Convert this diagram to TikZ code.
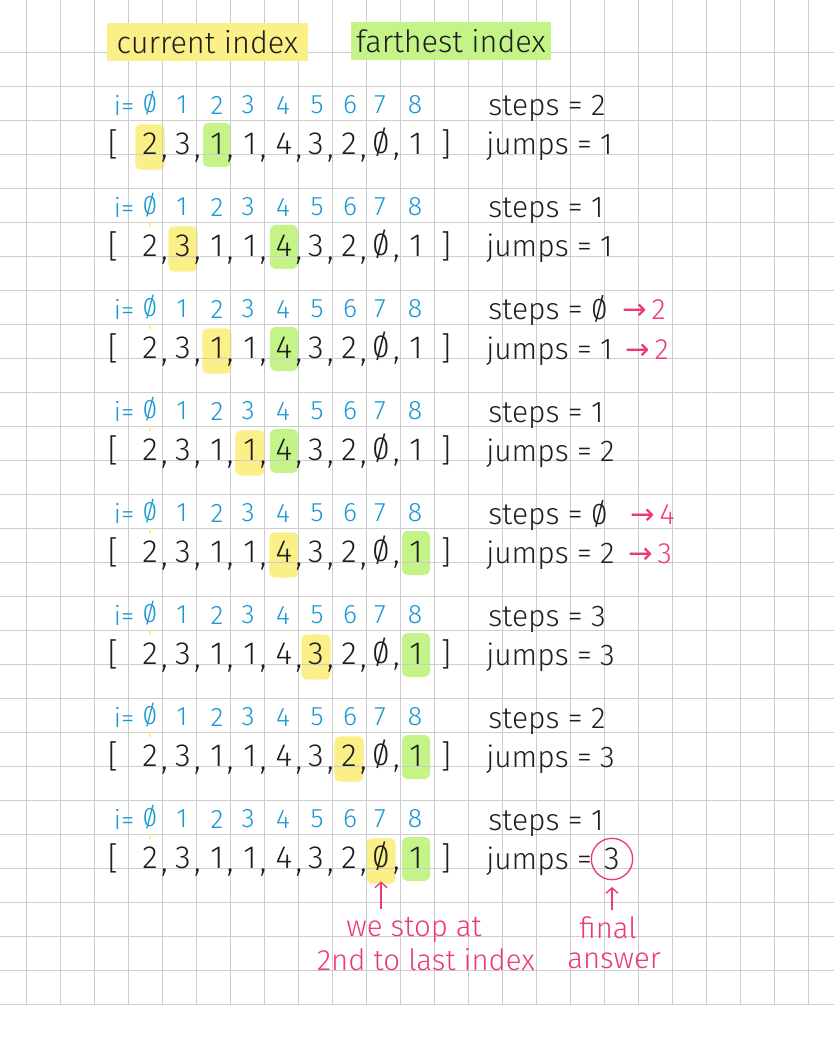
\documentclass[tikz,border=0pt]{standalone}
\usepackage{fontspec}
\setmainfont{Fira Sans}[UprightFont=* Light]
\newfontfamily\arrowfont{DejaVu Sans}
\usepackage{tikz}
\usetikzlibrary{positioning, arrows.meta, backgrounds}

\definecolor{inkblack}{RGB}{30,30,30}
\definecolor{idxblue}{RGB}{25,152,212}
\definecolor{notepink}{RGB}{236,58,120}
\definecolor{hlyellow}{RGB}{250,240,135}
\definecolor{hlgreen}{RGB}{196,243,136}
\definecolor{gridgray}{RGB}{205,205,205}

\newcommand{\slz}{\ooalign{0\cr\hidewidth/\hidewidth\cr}}

\begin{document}
\begin{tikzpicture}[
    x=0.75pt, y=-0.75pt,
    hand/.style={font=\fontsize{24}{28}\selectfont, text=inkblack, inner sep=0pt},
    count/.style={font=\fontsize{22.5}{27}\selectfont, text=inkblack, inner sep=0pt},
    idx/.style={font=\fontsize{20}{24}\selectfont, text=idxblue, inner sep=0pt},
    note/.style={font=\fontsize{22}{26}\selectfont, text=notepink, inner sep=0pt},
    curhl/.style={fill=hlyellow, rounded corners=4pt, minimum width=22pt, minimum height=34pt, inner sep=0pt},
    farhl/.style={fill=hlgreen, rounded corners=4pt, minimum width=21pt, minimum height=33pt, inner sep=0pt},
    gridline/.style={draw=gridgray, line width=0.75pt},
    pinkarrow/.style={draw=notepink, line width=1pt, -{Straight Barb[length=4pt, width=9pt]}}
]

    % Page
    \useasboundingbox (0,0) rectangle (834,1048);
    \begin{scope}[on background layer]
        \fill[white] (0,0) rectangle (834,1048);
    \end{scope}

    % Grid paper
    \foreach \gx in {0,...,23}
        \draw[gridline] (26.7+34*\gx, 0) -- (26.7+34*\gx, 1004.3);
    \foreach \gy in {0,...,28}
        \draw[gridline] (0, 52.3+34*\gy) -- (834, 52.3+34*\gy);

    % Legend
    \node[hand, fill=hlyellow, minimum width=151pt, minimum height=29pt, font=\fontsize{23}{27}\selectfont] (curhdr) at (207.5,42) {current index};
    \node[hand, fill=hlgreen, minimum width=150pt, minimum height=29pt, font=\fontsize{23}{27}\selectfont] (farhdr) at (451,41) {farthest index};

    % Iterations: row / current / farthest / steps / jumps
    \foreach \r/\cur/\far/\st/\ju in {1/0/2/2/1, 2/1/4/1/1, 3/2/4/\slz/1, 4/3/4/1/2,
                                      5/4/8/\slz/2, 6/5/8/3/3, 7/6/8/2/3, 8/7/8/1/{}} {
        \pgfmathsetmacro{\yi}{105+102*(\r-1)}
        \pgfmathsetmacro{\ya}{\yi+39}
        \pgfmathsetmacro{\xc}{{150,183,217,250,284,316,349,381,416}[\cur]}
        \pgfmathsetmacro{\xf}{{150,183,217,250,284,316,349,381,416}[\far]}

        % highlights
        \begin{scope}[on background layer]
            \node[curhl] (hc\r) at (\xc, \ya+3) {};
            \node[farhl] (hf\r) at (\xf, \ya+1) {};
        \end{scope}

        % index line
        \node[idx] (i\r) at (124, \yi) {i=};
        \foreach \k/\x in {0/150,1/182,2/217,3/248,4/283,5/317,6/350,7/380,8/415}
            \node[idx] (d\r-\k) at (\x, \yi) {\ifnum\k=0 \slz\else\k\fi};
        \ifnum\r>1
            \draw[hlyellow, line width=1.5pt] (d\r-0.south) ++(0,4) -- ++(0,5);
        \fi

        % array line
        \node[hand] (lb\r) at (113, \ya) {[};
        \foreach \k/\x/\v/\cm in {0/150/2/{,},1/183/3/{,},2/217/1/{,},3/250/1/{,},4/284/4/{,},
                                 5/316/3/{,},6/349/2/{,},7/381/\slz/{,},8/416/1/{}}
            \node[hand] (e\r-\k) at (\x, \ya) {\v\rlap{\kern2.5pt\smash{\raisebox{-2pt}{\cm}}}};
        \node[hand] (rb\r) at (446, \ya) {]};

        % counters
        \node[count, anchor=base west] (s\r) at (488, \yi+11) {steps = \st};
        \node[count, anchor=base west] (j\r) at (486, \ya+11) {jumps = \ju};
    }

    % Updates
    \node[note, anchor=base west] (s3up) at (622, 320) {{\arrowfont →}\,2};
    \node[note, anchor=base west] (j3up) at (625, 359) {{\arrowfont →}\,2};
    \node[note, anchor=base west] (s5up) at (630, 524) {{\arrowfont →}\,4};
    \node[note, anchor=base west] (j5up) at (628, 563) {{\arrowfont →}\,3};

    % Answer
    \node[hand, draw=notepink, circle, line width=1pt, minimum size=31pt] (ans) at (612, 859) {3};

    % Notes
    \node[note] (stop1) at (414, 930) {we stop at};
    \node[note] (stop2) at (426, 960) {2nd to last index};
    \node[note] (fin1) at (608, 928) {final};
    \node[note] (fin2) at (614, 961) {answer};

    \draw[pinkarrow, shorten <=6pt, shorten >=8pt] (e8-7 |- stop1.north) -- (e8-7.south);
    \draw[pinkarrow, shorten <=5pt, shorten >=5pt] (ans |- fin1.north) -- (ans.south);

\end{tikzpicture}
\end{document}
